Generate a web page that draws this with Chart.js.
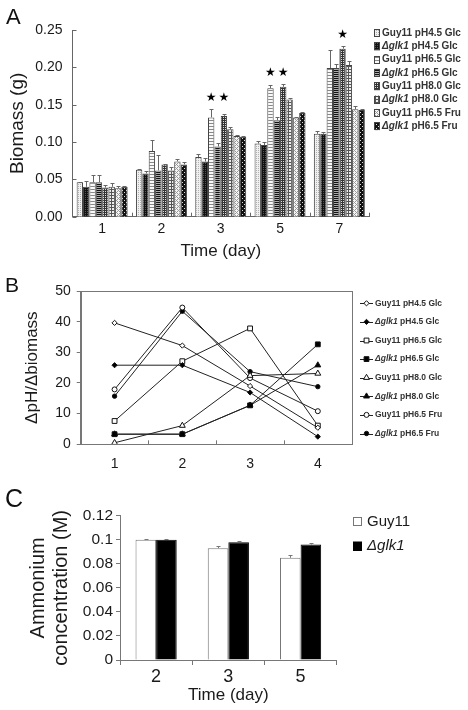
<!DOCTYPE html>
<html>
<head>
<meta charset="utf-8">
<script src="https://cdn.jsdelivr.net/npm/chart.js@4.4.1/dist/chart.umd.min.js"></script>
<style>
  body { margin: 0; background: #fff; width: 468px; height: 710px; position: relative; overflow: hidden; }
  canvas { position: absolute; left: 0; }
</style>
</head>
<body>
<canvas id="chartA" width="468" height="262" style="top:0"></canvas>
<canvas id="chartB" width="468" height="208" style="top:262px"></canvas>
<canvas id="chartC" width="468" height="240" style="top:470px"></canvas>
<script>
// ---------- data ----------
const strainLabels = [
  'Guy11 pH4.5 Glc', 'Δglk1 pH4.5 Glc', 'Guy11 pH6.5 Glc', 'Δglk1 pH6.5 Glc',
  'Guy11 pH8.0 Glc', 'Δglk1 pH8.0 Glc', 'Guy11 pH6.5 Fru', 'Δglk1 pH6.5 Fru'
];

// A: biomass (g)
const biomassDays = ['1', '2', '3', '5', '7'];
const bioGuy11Ph45Glc = [0.046, 0.063, 0.080, 0.098, 0.111];
const bioGlk1Ph45Glc  = [0.040, 0.058, 0.074, 0.096, 0.111];
const bioGuy11Ph65Glc = [0.046, 0.088, 0.133, 0.172, 0.199];
const bioGlk1Ph65Glc  = [0.046, 0.062, 0.094, 0.129, 0.199];
const bioGuy11Ph80Glc = [0.039, 0.070, 0.135, 0.174, 0.225];
const bioGlk1Ph80Glc  = [0.040, 0.062, 0.117, 0.157, 0.203];
const bioGuy11Ph65Fru = [0.038, 0.074, 0.108, 0.133, 0.144];
const bioGlk1Ph65Fru  = [0.040, 0.070, 0.107, 0.139, 0.143];
const errGuy11Ph45Glc = [0.001, 0.001, 0.004, 0.004, 0.004];
const errGlk1Ph45Glc  = [0.008, 0.003, 0.004, 0.004, 0.002];
const errGuy11Ph65Glc = [0.010, 0.015, 0.011, 0.005, 0.024];
const errGlk1Ph65Glc  = [0.010, 0.020, 0.005, 0.005, 0.005];
const errGuy11Ph80Glc = [0.004, 0.001, 0.003, 0.004, 0.004];
const errGlk1Ph80Glc  = [0.005, 0.004, 0.003, 0.002, 0.005];
const errGuy11Ph65Fru = [0.003, 0.003, 0.001, 0.001, 0.004];
const errGlk1Ph65Fru  = [0.001, 0.003, 0.001, 0.001, 0.001];
// significance stars: [day index, series index]
const starMarks = [[2, 2], [2, 4], [3, 2], [3, 4], [4, 4]];

// B: dpH / dbiomass
const ratioDays = ['1', '2', '3', '4'];
const ratioGuy11Ph45Glc = [39.6, 32.2, 19.0, 5.4];
const ratioGlk1Ph45Glc  = [25.8, 25.8, 16.9, 2.5];
const ratioGuy11Ph65Glc = [7.6, 27.1, 37.8, 6.1];
const ratioGlk1Ph65Glc  = [3.3, 3.3, 12.7, 32.6];
const ratioGuy11Ph80Glc = [0.5, 6.1, 22.4, 23.1];
const ratioGlk1Ph80Glc  = [3.3, 3.3, 12.7, 25.8];
const ratioGuy11Ph65Fru = [17.9, 44.6, 21.6, 10.8];
const ratioGlk1Ph65Fru  = [15.7, 43.4, 23.7, 18.8];

// C: ammonium concentration (M)
const ammoniumDays = ['2', '3', '5'];
const ammGuy11 = [0.100, 0.093, 0.085];
const ammGlk1  = [0.100, 0.098, 0.096];
const ammErrGuy11 = [0.0005, 0.002, 0.002];
const ammErrGlk1  = [0.001, 0.0012, 0.0015];

// ---------- helpers ----------
const FONT = '"Liberation Sans", Arial, sans-serif';
Chart.defaults.font.family = FONT;
Chart.defaults.color = '#1a1a1a';

function makePattern(canvasId, size, bg, fg, on) {
  const c = document.createElement('canvas');
  c.width = c.height = size;
  const g = c.getContext('2d');
  g.fillStyle = bg;
  g.fillRect(0, 0, size, size);
  g.fillStyle = fg;
  for (let x = 0; x < size; x++)
    for (let y = 0; y < size; y++)
      if (on(x, y)) g.fillRect(x, y, 1, 1);
  return document.getElementById(canvasId).getContext('2d').createPattern(c, 'repeat');
}

function drawRichLabel(ctx, label, x, y, f) {
  ctx.fillStyle = f.color;
  ctx.textBaseline = 'middle';
  ctx.textAlign = 'left';
  let rest = label;
  if (label.startsWith('Δglk1')) {
    ctx.font = `italic ${f.weight} ${f.size}px ${FONT}`;
    ctx.fillText('Δglk1', x, y);
    x += ctx.measureText('Δglk1').width;
    rest = label.slice(5);
  }
  ctx.font = `${f.weight} ${f.size}px ${FONT}`;
  ctx.fillText(rest, x, y);
}

// panel letter (A/B/C)
const panelText = {
  id: 'panelText',
  afterDraw(chart, args, o) {
    const ctx = chart.ctx;
    ctx.save();
    ctx.fillStyle = '#111';
    ctx.font = `${o.size}px ${FONT}`;
    ctx.textBaseline = 'alphabetic';
    ctx.textAlign = 'left';
    ctx.fillText(o.text, o.x, o.y);
    ctx.restore();
  }
};

const errorBars = {
  id: 'errorBars',
  afterDatasetsDraw(chart, args, o) {
    const ctx = chart.ctx, ys = chart.scales.y;
    ctx.save();
    ctx.strokeStyle = o.color;
    ctx.lineWidth = 1;
    chart.data.datasets.forEach((ds, di) => {
      if (!ds.errors) return;
      chart.getDatasetMeta(di).data.forEach((bar, i) => {
        const top = Math.round(ys.getPixelForValue(ds.data[i] + ds.errors[i])) + 0.5;
        const x = Math.round(bar.x) + 0.5;
        ctx.beginPath();
        ctx.moveTo(x, bar.y);
        ctx.lineTo(x, top);
        ctx.moveTo(x - o.cap, top);
        ctx.lineTo(x + o.cap, top);
        ctx.stroke();
      });
    });
    ctx.restore();
  }
};

const stars = {
  id: 'stars',
  afterDatasetsDraw(chart, args, o) {
    const ctx = chart.ctx, ys = chart.scales.y;
    ctx.save();
    ctx.fillStyle = '#000';
    ctx.font = `${o.size}px "DejaVu Sans"`;
    ctx.textAlign = 'center';
    ctx.textBaseline = 'middle';
    o.marks.forEach(([day, series]) => {
      let top = Infinity;
      chart.data.datasets.forEach(ds => {
        top = Math.min(top, ys.getPixelForValue(ds.data[day] + ds.errors[day]));
      });
      const bar = chart.getDatasetMeta(series).data[day];
      ctx.fillText('★', bar.x, top - o.gap);
    });
    ctx.restore();
  }
};

// tick marks that point into the plot, plus optional frame
const innerTicks = {
  id: 'innerTicks',
  afterDraw(chart, args, o) {
    const ctx = chart.ctx, xs = chart.scales.x, ys = chart.scales.y, a = chart.chartArea;
    ctx.save();
    ctx.strokeStyle = o.color;
    ctx.lineWidth = 1;
    ctx.beginPath();
    const step = (xs.right - xs.left) / xs.ticks.length;
    for (let i = 1; i <= o.xCount; i++) {
      const px = Math.round(xs.left + i * step) + 0.5;
      ctx.moveTo(px, a.bottom);
      ctx.lineTo(px, a.bottom - o.len);
    }
    if (o.yTicks) {
      ys.ticks.forEach(t => {
        const py = Math.round(ys.getPixelForValue(t.value)) + 0.5;
        ctx.moveTo(a.left, py);
        ctx.lineTo(a.left + o.len, py);
      });
    }
    ctx.stroke();
    if (o.box) {
      ctx.strokeRect(Math.round(a.left) + 0.5, Math.round(a.top) + 0.5,
        Math.round(a.right - a.left), Math.round(a.bottom - a.top));
    }
    ctx.restore();
  }
};

const sideLegend = {
  id: 'sideLegend',
  afterDraw(chart, args, o) {
    const ctx = chart.ctx;
    ctx.save();
    chart.data.datasets.forEach((ds, i) => {
      const cy = o.y + i * o.dy;
      if (o.kind === 'swatch') {
        ctx.fillStyle = ds.backgroundColor;
        ctx.fillRect(o.x, cy - o.h / 2, o.w, o.h);
        ctx.strokeStyle = ds.borderColor;
        ctx.lineWidth = 1;
        ctx.strokeRect(o.x + 0.5, Math.round(cy - o.h / 2) + 0.5, o.w - 1, o.h - 1);
      } else {
        ctx.strokeStyle = ds.borderColor;
        ctx.lineWidth = 1;
        ctx.beginPath();
        ctx.moveTo(o.x, Math.round(cy) + 0.5);
        ctx.lineTo(o.x + o.w, Math.round(cy) + 0.5);
        ctx.stroke();
        ctx.fillStyle = ds.pointBackgroundColor;
        ctx.strokeStyle = ds.pointBorderColor;
        Chart.helpers.drawPoint(ctx, {
          pointStyle: ds.pointStyle, radius: ds.pointRadius, rotation: 0, borderWidth: 1
        }, o.x + o.w / 2, cy);
      }
      drawRichLabel(ctx, ds.label, o.textX, cy, o.font);
    });
    ctx.restore();
  }
};

// ---------- A: biomass bars ----------
const patternsA = [
  makePattern('chartA', 2, '#f0f0f0', '#b0b0b0', (x, y) => x === 0 && y === 0),
  makePattern('chartA', 2, '#111', '#555', (x, y) => x === 1 && y === 1),
  makePattern('chartA', 3, '#fafafa', '#888', (x, y) => y === 0),
  makePattern('chartA', 2, '#aaa', '#111', (x, y) => y === 0),
  makePattern('chartA', 2, '#ddd', '#333', (x, y) => x === 0 || y === 0),
  makePattern('chartA', 3, '#eee', '#555', (x, y) => x === 0 || y === 0),
  makePattern('chartA', 4, '#f6f6f6', '#999', (x, y) => (x + y) % 4 === 0 || (x - y + 4) % 4 === 0),
  makePattern('chartA', 4, '#111', '#ddd', (x, y) => (x % 4 === 0 && y % 4 === 0) || (x % 4 === 2 && y % 4 === 2))
];
const biomassSeries = [bioGuy11Ph45Glc, bioGlk1Ph45Glc, bioGuy11Ph65Glc, bioGlk1Ph65Glc,
  bioGuy11Ph80Glc, bioGlk1Ph80Glc, bioGuy11Ph65Fru, bioGlk1Ph65Fru];
const biomassErrors = [errGuy11Ph45Glc, errGlk1Ph45Glc, errGuy11Ph65Glc, errGlk1Ph65Glc,
  errGuy11Ph80Glc, errGlk1Ph80Glc, errGuy11Ph65Fru, errGlk1Ph65Fru];

new Chart(document.getElementById('chartA'), {
  type: 'bar',
  data: {
    labels: biomassDays,
    datasets: biomassSeries.map((d, i) => ({
      label: strainLabels[i],
      data: d,
      errors: biomassErrors[i],
      backgroundColor: patternsA[i],
      borderColor: '#444',
      borderWidth: 1,
      borderSkipped: 'bottom',
      categoryPercentage: 0.86,
      barPercentage: 1
    }))
  },
  options: {
    responsive: false,
    animation: false,
    layout: { padding: { top: 30, right: 99, left: 0, bottom: 0 } },
    plugins: {
      legend: { display: false },
      tooltip: { enabled: false },
      panelText: { text: 'A', x: 6, y: 24, size: 22 },
      errorBars: { color: '#666', cap: 2 },
      stars: { marks: starMarks, size: 12, gap: 11 },
      innerTicks: { color: '#666', len: 4, xCount: 5, yTicks: true },
      sideLegend: {
        kind: 'swatch', x: 374, y: 33, dy: 13.3, w: 6, h: 8, textX: 382,
        font: { size: 10, weight: 'bold', color: '#333' }
      }
    },
    scales: {
      x: {
        grid: { display: false, drawTicks: false },
        border: { color: '#666' },
        ticks: { font: { size: 14 }, padding: 4 },
        title: { display: true, text: 'Time (day)', font: { size: 17 }, padding: 0 },
        afterFit: s => { s.height = 45.3; }
      },
      y: {
        min: 0, max: 0.25,
        grid: { display: false, drawTicks: false },
        border: { color: '#666' },
        ticks: { stepSize: 0.05, font: { size: 14 }, padding: 10, callback: v => v.toFixed(2) },
        title: { display: true, text: 'Biomass (g)', font: { size: 19 }, padding: { top: 6, bottom: 0 } },
        afterFit: s => { s.width = 72.5; }
      }
    }
  },
  plugins: [panelText, errorBars, stars, innerTicks, sideLegend]
});

// ---------- B: ratio lines ----------
const ratioSeries = [ratioGuy11Ph45Glc, ratioGlk1Ph45Glc, ratioGuy11Ph65Glc, ratioGlk1Ph65Glc,
  ratioGuy11Ph80Glc, ratioGlk1Ph80Glc, ratioGuy11Ph65Fru, ratioGlk1Ph65Fru];
const ratioMarkers = [
  ['rectRot', 2.6, '#fff'], ['rectRot', 2.6, '#000'],
  ['rect', 3.4, '#fff'], ['rect', 3.4, '#000'],
  ['triangle', 3.4, '#fff'], ['triangle', 3.4, '#000'],
  ['circle', 2.5, '#fff'], ['circle', 2.2, '#000']
];

new Chart(document.getElementById('chartB'), {
  type: 'line',
  data: {
    labels: ratioDays,
    datasets: ratioSeries.map((d, i) => ({
      label: strainLabels[i],
      data: d,
      borderColor: '#222',
      borderWidth: 1,
      tension: 0,
      fill: false,
      clip: false,
      pointStyle: ratioMarkers[i][0],
      pointRadius: ratioMarkers[i][1],
      pointBackgroundColor: ratioMarkers[i][2],
      pointBorderColor: '#111',
      pointBorderWidth: 1
    }))
  },
  options: {
    responsive: false,
    animation: false,
    layout: { padding: { top: 29, right: 116.3, left: 0, bottom: 0 } },
    plugins: {
      legend: { display: false },
      tooltip: { enabled: false },
      panelText: { text: 'B', x: 5, y: 30, size: 21 },
      innerTicks: { color: '#777', len: 4, xCount: 3, yTicks: false, box: true },
      sideLegend: {
        kind: 'line', x: 360, y: 41.3, dy: 18.6, w: 13, textX: 375,
        font: { size: 8.5, weight: 'bold', color: '#333' }
      }
    },
    scales: {
      x: {
        offset: true,
        grid: { display: false, drawTicks: false },
        border: { color: '#777' },
        ticks: { font: { size: 14 }, padding: 11 },
        afterFit: s => { s.height = 25.7; }
      },
      y: {
        min: 0, max: 50,
        grid: { drawOnChartArea: false, tickLength: 4, color: '#777' },
        border: { color: '#777' },
        ticks: { stepSize: 10, font: { size: 14 }, padding: 6 },
        title: { display: true, text: 'ΔpH/Δbiomass', font: { size: 17 }, padding: { top: 22, bottom: 0 } },
        afterFit: s => { s.width = 80.7; }
      }
    }
  },
  plugins: [panelText, innerTicks, sideLegend]
});

// ---------- C: ammonium bars ----------
new Chart(document.getElementById('chartC'), {
  type: 'bar',
  data: {
    labels: ammoniumDays,
    datasets: [
      { label: 'Guy11', data: ammGuy11, errors: ammErrGuy11, backgroundColor: '#fff',
        borderColor: '#777', borderWidth: 1, borderSkipped: 'bottom' },
      { label: 'Δglk1', data: ammGlk1, errors: ammErrGlk1, backgroundColor: '#000',
        borderColor: '#000', borderWidth: 1, borderSkipped: 'bottom' }
    ]
  },
  options: {
    responsive: false,
    animation: false,
    datasets: { bar: { categoryPercentage: 0.57, barPercentage: 1 } },
    layout: { padding: { top: 45.7, right: 131.3, left: 0, bottom: 0 } },
    plugins: {
      legend: { display: false },
      tooltip: { enabled: false },
      panelText: { text: 'C', x: 5, y: 37, size: 25 },
      errorBars: { color: '#777', cap: 2 },
      sideLegend: {
        kind: 'swatch', x: 353, y: 51.7, dy: 24.3, w: 9, h: 9, textX: 367,
        font: { size: 15, weight: 'normal', color: '#1a1a1a' }
      }
    },
    scales: {
      x: {
        grid: { drawOnChartArea: false, tickLength: 5, color: '#777' },
        border: { color: '#777' },
        ticks: { font: { size: 18 }, padding: 1 },
        title: { display: true, text: 'Time (day)', font: { size: 17 }, padding: { top: 0, bottom: 4 } },
        afterFit: s => { s.height = 50; }
      },
      y: {
        min: 0, max: 0.12,
        grid: { drawOnChartArea: false, tickLength: 4, color: '#777' },
        border: { color: '#777' },
        ticks: { stepSize: 0.02, font: { size: 15.5 }, padding: 3, callback: v => String(+v.toFixed(2)) },
        title: {
          display: true, text: ['Ammonium', 'concentration (M)'],
          font: { size: 20, lineHeight: 1.15 }, padding: { top: 27, bottom: 0 }
        },
        afterFit: s => { s.width = 120; }
      }
    }
  },
  plugins: [panelText, errorBars, sideLegend]
});
</script>
</body>
</html>
